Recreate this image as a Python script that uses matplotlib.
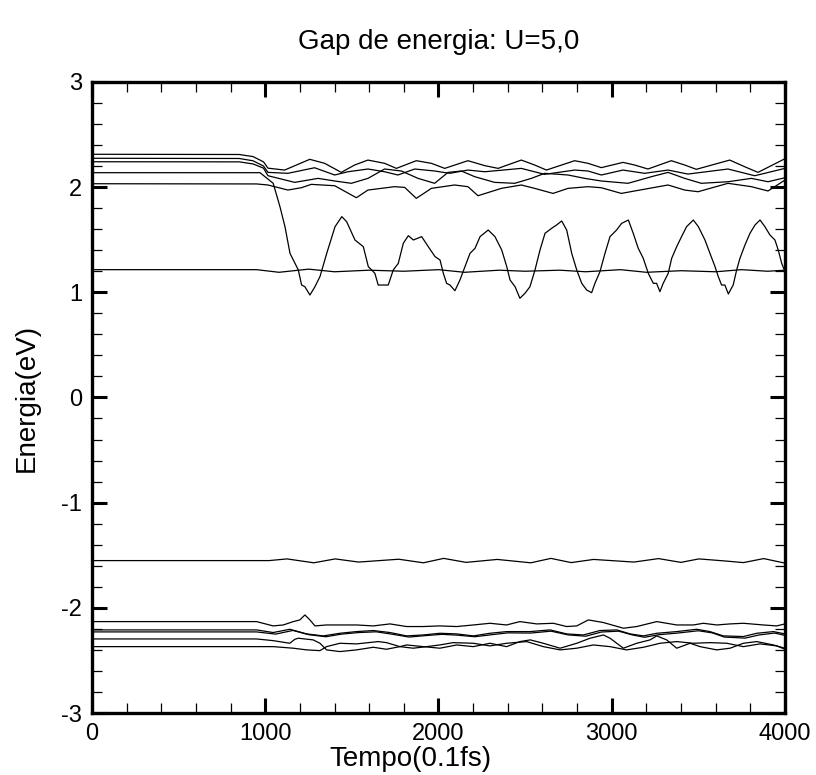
import matplotlib
matplotlib.use("Agg")
import matplotlib.pyplot as plt
from matplotlib.ticker import MultipleLocator

plt.rcParams['font.family'] = ['Liberation Sans', 'DejaVu Sans']
plt.rcParams['axes.unicode_minus'] = False

# ---- upper levels (eV) vs time (0.1 fs) ----
t_a = [0, 850, 930, 990, 1016, 1112, 1257, 1343, 1439, 1516, 1593, 1689, 1757, 1872, 1959,
       2036, 2170, 2267, 2344, 2478, 2555, 2623, 2786, 2863, 2940, 3065, 3132, 3209, 3344,
       3421, 3488, 3681, 3767, 3844, 3921, 4000]
e_a = [2.312, 2.31, 2.29, 2.24, 2.18, 2.162, 2.264, 2.226, 2.140, 2.210, 2.257, 2.226, 2.178,
       2.251, 2.226, 2.178, 2.251, 2.204, 2.178, 2.257, 2.210, 2.162, 2.251, 2.226, 2.185,
       2.235, 2.210, 2.172, 2.251, 2.210, 2.169, 2.257, 2.194, 2.140, 2.204, 2.27]

t_b = [0, 850, 930, 990, 1016, 1131, 1285, 1401, 1478, 1593, 1689, 1766, 1863, 1978, 2065,
       2170, 2267, 2478, 2613, 2786, 2863, 2940, 3065, 3190, 3325, 3440, 3671, 3825, 4000]
e_b = [2.274, 2.272, 2.25, 2.20, 2.140, 2.131, 2.184, 2.115, 2.146, 2.172, 2.146, 2.115, 2.172,
       2.153, 2.131, 2.162, 2.146, 2.178, 2.121, 2.162, 2.153, 2.115, 2.162, 2.131, 2.162,
       2.124, 2.172, 2.108, 2.178]

t_c = [0, 850, 930, 990, 1016, 1170, 1305, 1401, 1497, 1593, 1689, 1786, 1882, 1978, 2055,
       2132, 2209, 2324, 2440, 2536, 2613, 2748, 2844, 2940, 3094, 3229, 3325, 3421, 3517,
       3671, 3806, 3902, 4000]
e_c = [2.241, 2.24, 2.22, 2.18, 2.108, 2.045, 2.083, 2.058, 2.036, 2.083, 2.172, 2.153, 2.083,
       2.036, 2.140, 2.153, 2.099, 2.045, 2.036, 2.083, 2.131, 2.115, 2.083, 2.058, 2.036,
       2.099, 2.140, 2.083, 2.036, 2.051, 2.083, 2.051, 2.089]

t_d = [0, 950, 1016, 1131, 1208, 1266, 1401, 1526, 1593, 1747, 1805, 1872, 1959, 2093, 2170,
       2228, 2363, 2478, 2555, 2661, 2748, 2863, 2940, 3055, 3132, 3325, 3421, 3498, 3671,
       3806, 3902, 4000]
e_d = [2.032, 2.03, 2.02, 1.972, 1.994, 2.026, 2.013, 1.899, 1.972, 2.004, 1.997, 1.893, 1.988,
       2.020, 2.004, 1.918, 1.988, 2.020, 1.988, 1.940, 1.988, 2.004, 1.994, 1.940, 1.963,
       2.020, 1.972, 1.956, 2.036, 2.004, 1.963, 2.067]

# level that drops into the gap and oscillates
t_osc = [0, 970, 1046, 1085, 1114, 1143, 1172, 1191, 1210, 1229, 1258, 1287, 1316, 1355, 1403,
         1442, 1470, 1518, 1566, 1595, 1633, 1652, 1681, 1710, 1739, 1768, 1797, 1826, 1855,
         1903, 1941, 1980, 2009, 2028, 2047, 2066, 2095, 2124, 2153, 2182, 2211, 2240, 2287,
         2326, 2365, 2394, 2413, 2442, 2470, 2499, 2528, 2557, 2586, 2615, 2653, 2682, 2711,
         2740, 2769, 2798, 2827, 2855, 2884, 2903, 2932, 2961, 2990, 3028, 3057, 3096, 3124,
         3153, 3182, 3211, 3240, 3259, 3278, 3297, 3326, 3346, 3375, 3403, 3432, 3471, 3500,
         3538, 3567, 3596, 3615, 3634, 3653, 3673, 3701, 3721, 3740, 3769, 3798, 3827, 3856,
         3884, 3913, 3942, 3961, 3981, 4000]
e_osc = [2.137, 2.137, 2.036, 1.814, 1.624, 1.370, 1.275, 1.212, 1.069, 1.053, 0.974, 1.053,
         1.149, 1.370, 1.624, 1.719, 1.671, 1.497, 1.434, 1.244, 1.180, 1.069, 1.069, 1.069,
         1.212, 1.275, 1.466, 1.538, 1.497, 1.529, 1.434, 1.339, 1.307, 1.180, 1.085, 1.069,
         1.015, 1.117, 1.244, 1.370, 1.418, 1.529, 1.592, 1.529, 1.402, 1.244, 1.117, 1.053,
         0.943, 0.990, 1.053, 1.212, 1.402, 1.561, 1.608, 1.640, 1.678, 1.592, 1.370, 1.212,
         1.085, 1.022, 0.996, 1.085, 1.196, 1.370, 1.529, 1.592, 1.655, 1.687, 1.561, 1.418,
         1.323, 1.180, 1.085, 1.085, 1.006, 1.085, 1.180, 1.323, 1.434, 1.529, 1.624, 1.687,
         1.624, 1.497, 1.370, 1.244, 1.149, 1.069, 1.069, 0.984, 1.069, 1.212, 1.323, 1.450,
         1.561, 1.640, 1.687, 1.624, 1.545, 1.497, 1.402, 1.275, 1.196]

t_mid = [0, 950, 1080, 1250, 1400, 1600, 1800, 2000, 2150, 2350, 2500, 2700, 2850, 3050, 3200,
         3400, 3600, 3750, 3900, 4000]
e_mid = [1.215, 1.215, 1.19, 1.22, 1.195, 1.21, 1.20, 1.215, 1.19, 1.21, 1.20, 1.21, 1.195,
         1.215, 1.19, 1.205, 1.195, 1.215, 1.20, 1.21]

# ---- lower levels ----
t_homo = [0, 1022, 1126, 1280, 1404, 1539, 1771, 1913, 2030, 2159, 2339, 2533, 2649, 2766,
          2895, 3128, 3270, 3399, 3503, 3657, 3760, 3877, 4000]
e_homo = [-1.551, -1.551, -1.535, -1.572, -1.535, -1.565, -1.538, -1.572, -1.530, -1.568,
          -1.540, -1.572, -1.530, -1.570, -1.540, -1.565, -1.532, -1.568, -1.535, -1.555,
          -1.570, -1.532, -1.575]

t_e = [0, 950, 1046, 1104, 1162, 1200, 1229, 1258, 1287, 1354, 1431, 1527, 1624, 1720, 1816,
       1912, 2008, 2105, 2201, 2297, 2393, 2470, 2567, 2663, 2740, 2798, 2865, 2952, 3067,
       3144, 3260, 3375, 3471, 3529, 3606, 3683, 3760, 3875, 3952, 4000]
e_e = [-2.131, -2.131, -2.172, -2.163, -2.131, -2.115, -2.068, -2.115, -2.172, -2.163, -2.163,
       -2.163, -2.172, -2.153, -2.178, -2.178, -2.172, -2.178, -2.163, -2.147, -2.163, -2.131,
       -2.153, -2.147, -2.178, -2.172, -2.115, -2.140, -2.194, -2.178, -2.131, -2.163, -2.163,
       -2.147, -2.163, -2.153, -2.147, -2.163, -2.172, -2.153]

t_f = [0, 950, 1046, 1142, 1239, 1335, 1431, 1527, 1624, 1720, 1816, 1912, 2008, 2105, 2201,
       2297, 2393, 2528, 2644, 2740, 2836, 2932, 3029, 3106, 3183, 3260, 3375, 3490, 3567,
       3644, 3760, 3837, 3933, 4000]
e_f = [-2.210, -2.210, -2.235, -2.204, -2.248, -2.267, -2.242, -2.226, -2.216, -2.235, -2.267,
       -2.258, -2.242, -2.248, -2.267, -2.242, -2.226, -2.226, -2.210, -2.248, -2.258, -2.216,
       -2.210, -2.248, -2.267, -2.242, -2.226, -2.204, -2.226, -2.267, -2.273, -2.242, -2.226,
       -2.248]

t_g = [0, 950, 1060, 1160, 1250, 1350, 1440, 1540, 1640, 1730, 1830, 1920, 2020, 2110, 2210,
       2310, 2400, 2530, 2650, 2750, 2850, 2940, 3040, 3120, 3190, 3270, 3380, 3500, 3580,
       3650, 3770, 3850, 3940, 4000]
e_g = [-2.229, -2.229, -2.250, -2.215, -2.255, -2.275, -2.250, -2.235, -2.228, -2.250, -2.278,
       -2.265, -2.252, -2.260, -2.275, -2.255, -2.238, -2.240, -2.222, -2.258, -2.270, -2.230,
       -2.222, -2.258, -2.280, -2.256, -2.240, -2.218, -2.238, -2.278, -2.288, -2.258, -2.240,
       -2.262]

t_h = [0, 950, 1046, 1142, 1171, 1191, 1277, 1316, 1354, 1431, 1527, 1624, 1700, 1777, 1816,
       1912, 2008, 2105, 2201, 2297, 2393, 2470, 2530, 2605, 2702, 2798, 2875, 2952, 2990,
       3067, 3144, 3221, 3260, 3317, 3375, 3452, 3510, 3606, 3683, 3760, 3837, 3933, 4000]
e_h = [-2.296, -2.296, -2.312, -2.337, -2.299, -2.289, -2.305, -2.337, -2.400, -2.416, -2.400,
       -2.375, -2.394, -2.369, -2.353, -2.369, -2.384, -2.353, -2.369, -2.337, -2.369, -2.321,
       -2.305, -2.337, -2.384, -2.337, -2.289, -2.258, -2.289, -2.384, -2.337, -2.305, -2.267,
       -2.305, -2.384, -2.337, -2.369, -2.400, -2.384, -2.337, -2.321, -2.353, -2.384]

t_i = [0, 950, 1046, 1162, 1239, 1316, 1354, 1431, 1527, 1652, 1700, 1777, 1854, 1931, 2008,
       2085, 2201, 2297, 2393, 2509, 2605, 2702, 2798, 2894, 2990, 3086, 3183, 3279, 3375,
       3471, 3567, 3664, 3760, 3856, 3952, 4000]
e_i = [-2.369, -2.369, -2.369, -2.384, -2.400, -2.407, -2.369, -2.337, -2.343, -2.321, -2.331,
       -2.369, -2.384, -2.369, -2.353, -2.331, -2.337, -2.362, -2.337, -2.321, -2.369, -2.400,
       -2.384, -2.353, -2.369, -2.400, -2.375, -2.337, -2.321, -2.337, -2.331, -2.337, -2.369,
       -2.343, -2.362, -2.394]

levels = [(t_a, e_a), (t_b, e_b), (t_c, e_c), (t_d, e_d), (t_osc, e_osc), (t_mid, e_mid),
          (t_homo, e_homo), (t_e, e_e), (t_f, e_f), (t_g, e_g), (t_h, e_h), (t_i, e_i)]

fig = plt.figure(figsize=(8.16, 7.75), dpi=100)
ax = fig.add_axes([0.1127, 0.080, 0.8493, 0.8143])

for t, e in levels:
    ax.plot(t, e, color='black', linewidth=0.9, solid_joinstyle='round')

ax.set_xlim(0, 4000)
ax.set_ylim(-3, 3)
ax.xaxis.set_major_locator(MultipleLocator(1000))
ax.xaxis.set_minor_locator(MultipleLocator(200))
ax.yaxis.set_major_locator(MultipleLocator(1))
ax.yaxis.set_minor_locator(MultipleLocator(0.2))
ax.tick_params(which='both', direction='in', top=True, right=True, labelsize=17)
ax.tick_params(which='major', length=11, width=2.2, pad=7)
ax.tick_params(which='minor', length=7, width=0.9)
for sp in ax.spines.values():
    sp.set_linewidth(2.4)

ax.set_xlabel('Tempo(0.1fs)', fontsize=20)
ax.xaxis.set_label_coords(0.459, -0.052)
ax.set_ylabel('Energia(eV)', fontsize=20)
ax.yaxis.set_label_coords(-0.075, 0.5)
ax.set_title('Gap de energia: U=5,0', fontsize=20, pad=24)

fig.savefig('out.png', dpi=100)
